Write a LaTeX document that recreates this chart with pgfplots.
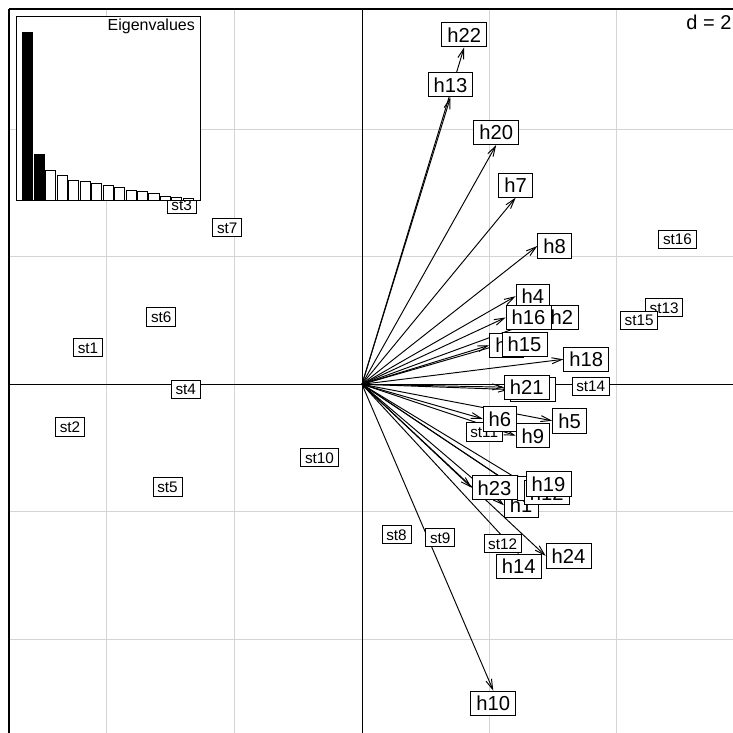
\documentclass[border=0pt]{standalone}
\usepackage{fontspec}
\setmainfont{Liberation Sans}
\usepackage{pgfplots}
\usepackage{pgfplotstable}
\pgfplotsset{compat=1.18}
\usetikzlibrary{arrows.meta}

\pgfplotstableread{
label x y
st1 -4.298 0.577
st2 -4.580 -0.667
st3 -2.828 2.817
st4 -2.765 -0.077
st5 -3.051 -1.608
st6 -3.148 1.059
st7 -2.113 2.460
st8 0.541 -2.359
st9 1.228 -2.403
st10 -0.667 -1.148
st11 1.917 -0.748
st12 2.207 -2.500
st13 4.740 1.202
st14 3.589 -0.030
st15 4.348 1.005
st16 4.949 2.276
}\sttab

% pos: 1 = label right of tip, 2 = above, 3 = below
\pgfplotstableread{
label u v pos
h1 2.227 -1.898 1
h2 2.866 1.048 1
h3 1.997 0.612 1
h4 2.411 1.382 1
h5 2.985 -0.573 1
h6 1.893 -0.541 1
h7 2.411 2.927 2
h8 2.750 2.169 1
h9 2.411 -0.806 1
h10 2.060 -4.806 3
h11 2.436 -1.631 1
h12 2.541 -1.700 1
h13 1.388 4.502 2
h14 2.460 -2.662 3
h15 2.191 0.629 1
h16 2.254 1.048 1
h17 2.317 -0.082 1
h18 3.158 0.392 1
h19 2.568 -1.561 1
h20 2.105 3.754 2
h21 2.227 -0.045 1
h22 1.603 5.286 2
h23 1.721 -1.622 1
h24 2.882 -2.693 1
}\htab

\pgfplotstableread{
k val
1 167.3
2 45.7
3 29.7
4 25.0
5 20.0
6 18.3
7 17.0
8 14.7
9 12.3
10 9.7
11 9.0
12 6.7
13 3.3
14 2.7
15 2.0
}\eigtab

\tikzset{
  hlab/.style={draw=black, line width=0.85bp, fill=white, inner xsep=5.6bp, inner ysep=4.8bp,
    text height=14.7bp, text depth=0pt, font=\fontsize{20.2bp}{24bp}\selectfont},
  stlab/.style={draw=black, line width=0.85bp, fill=white, inner xsep=4.25bp, inner ysep=3.6bp,
    text height=11.2bp, text depth=0pt, font=\fontsize{15.3bp}{18bp}\selectfont},
}

\begin{document}
\begin{tikzpicture}
\useasboundingbox (-9bp,0bp) rectangle (724bp,733bp);
\begin{axis}[
  at={(0bp,0bp)}, anchor=south west,
  scale only axis, width=724bp, height=724bp,
  xmin=-5.537, xmax=5.820, ymin=-5.470, ymax=5.887,
  axis x line*=top, axis y line*=left,
  axis line style={-, line width=1.5bp, black},
  xtick={-4,-2,2,4}, ytick={-4,-2,2,4},
  xticklabels={}, yticklabels={},
  major tick length=0pt, tick style={draw=none},
  grid=major, major grid style={black!17, line width=1bp},
]
\addplot[black, line width=0.9bp] coordinates {(-7,0) (7,0)};
\addplot[black, line width=0.9bp] coordinates {(0,-7) (0,7)};

% station labels
\addplot[only marks, mark=none, nodes near coords, point meta=explicit symbolic,
  every node near coord/.append style={stlab, anchor=center}]
  table[x=x, y=y, meta=label] {\sttab};

% arrows
\addplot[black, line width=0.95bp,
  quiver={u=\thisrow{u}, v=\thisrow{v},
    every arrow/.append style={-{Straight Barb[length=10bp,width=6bp]}}}]
  table[x expr=0, y expr=0] {\htab};

% arrow labels
\addplot[only marks, mark=none, nodes near coords, point meta=explicit symbolic,
  restrict expr to domain={\thisrow{pos}}{1:1},
  every node near coord/.append style={hlab, anchor=west}]
  table[x=u, y=v, meta=label] {\htab};
\addplot[only marks, mark=none, nodes near coords, point meta=explicit symbolic,
  restrict expr to domain={\thisrow{pos}}{2:2},
  every node near coord/.append style={hlab, anchor=south}]
  table[x=u, y=v, meta=label] {\htab};
\addplot[only marks, mark=none, nodes near coords, point meta=explicit symbolic,
  restrict expr to domain={\thisrow{pos}}{3:3},
  every node near coord/.append style={hlab, anchor=north}]
  table[x=u, y=v, meta=label] {\htab};

\node[anchor=base east, inner sep=0pt, font=\fontsize{20bp}{24bp}\selectfont]
  at (axis cs:5.80,5.569) {d = 2};
\end{axis}

\begin{axis}[
  at={(7bp,533bp)}, anchor=south west,
  scale only axis, width=184bp, height=184bp,
  xmin=-0.03, xmax=16.03, ymin=0, ymax=184,
  axis background/.style={fill=white},
  axis line style={line width=0.9bp, black},
  xtick=\empty, ytick=\empty,
  ybar, bar width=0.88,
]
\addplot[fill=black, draw=black, line width=0.7bp, bar shift=0pt,
  restrict x to domain=1:2] table[x=k, y=val] {\eigtab};
\addplot[fill=white, draw=black, line width=0.7bp, bar shift=0pt,
  restrict x to domain=3:15] table[x=k, y=val] {\eigtab};
\node[anchor=base east, inner sep=0pt, font=\fontsize{16bp}{19bp}\selectfont]
  at (rel axis cs:0.973,0.920) {Eigenvalues};
\end{axis}
\end{tikzpicture}
\end{document}
